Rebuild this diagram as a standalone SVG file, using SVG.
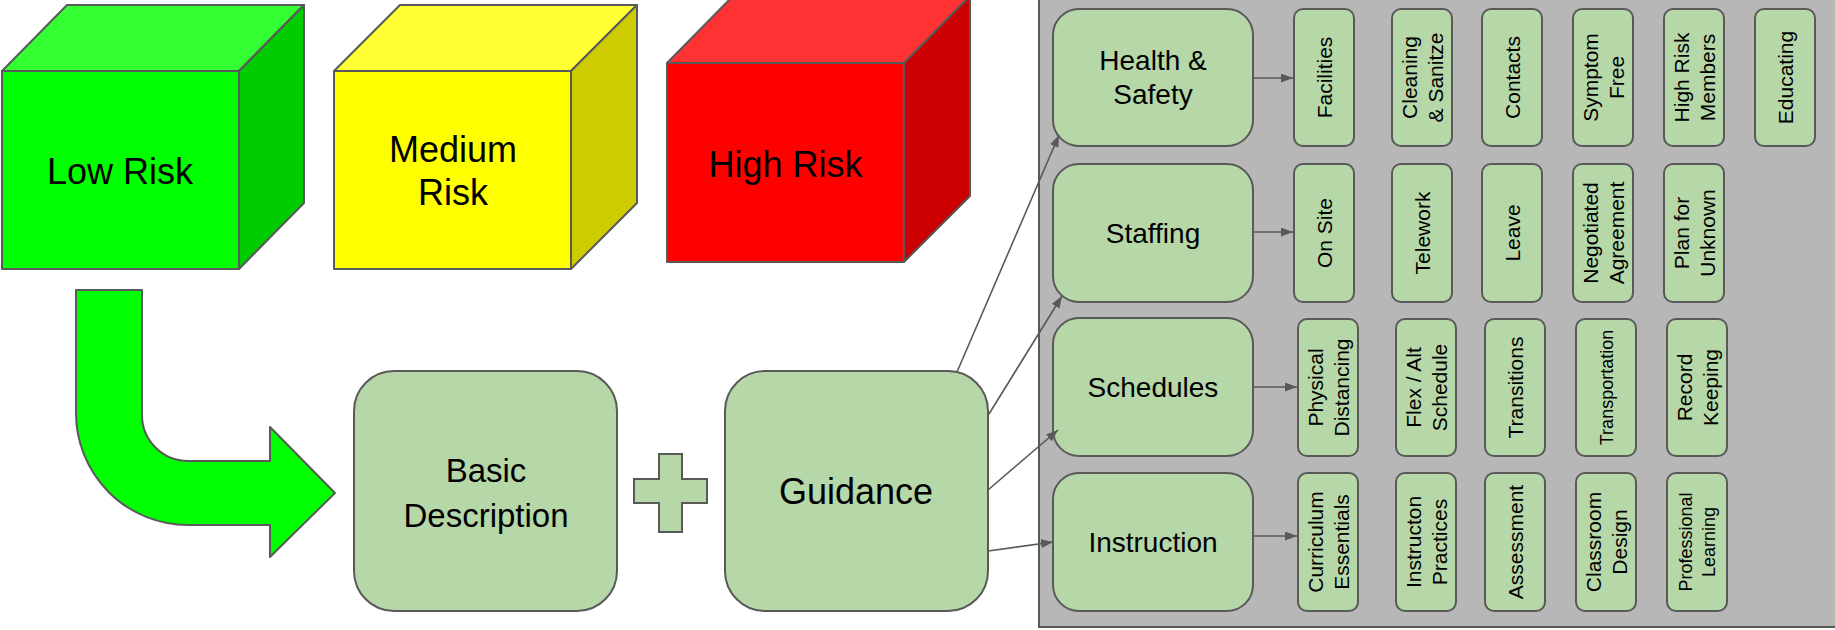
<svg xmlns="http://www.w3.org/2000/svg" width="1835" height="630" viewBox="0 0 1835 630">
<defs>
<style>
text{font-family:"Liberation Sans",Arial,sans-serif;fill:#000;text-anchor:middle}
.edge{stroke:#595959;stroke-width:2;stroke-linejoin:round}
.box{fill:#b6d7a8;stroke:#595959;stroke-width:2}
.conn{stroke:#595959;stroke-width:1.6;fill:none;marker-end:url(#ah)}
.big{font-size:36px}
.cat{font-size:28px}
.sub{font-size:21px}
.sm{font-size:18px}
</style>
<marker id="ah" viewBox="0 0 12 9" refX="12" refY="4.5" markerWidth="12" markerHeight="9" markerUnits="userSpaceOnUse" orient="auto">
<path d="M0,0 L12,4.5 L0,9 Z" fill="#595959"/>
</marker>
</defs>
<rect width="1835" height="630" fill="#ffffff"/>

<g id="low-risk" class="edge">
<polygon points="2,71 67,5 304,5 239,71" fill="#33ff33"/>
<polygon points="239,71 304,5 304,203 239,269" fill="#00cc00"/>
<rect x="2" y="71" width="237" height="198" fill="#00ff00"/>
<text class="big" x="120" y="184" stroke="none">Low Risk</text>
</g>

<g id="medium-risk" class="edge">
<polygon points="334,71 400,5 637,5 571,71" fill="#ffff33"/>
<polygon points="571,71 637,5 637,203 571,269" fill="#cccc00"/>
<rect x="334" y="71" width="237" height="198" fill="#ffff00"/>
<text class="big" x="453" y="162" stroke="none">Medium</text>
<text class="big" x="453" y="205" stroke="none">Risk</text>
</g>

<g id="high-risk" class="edge">
<polygon points="667,63 733,-4 970,-4 904,63" fill="#ff3333"/>
<polygon points="904,63 970,-4 970,196 904,262" fill="#cc0000"/>
<rect x="667" y="63" width="237" height="199" fill="#ff0000"/>
<text class="big" x="785.5" y="177" stroke="none">High Risk</text>
</g>

<g id="bent-arrow">
<path class="edge" fill="#00ff00" d="M76,290 L142,290 L142,415 A46,46 0 0 0 188,461 L270,461 L270,427 L335,493 L270,557 L270,525 L188,525 A112,112 0 0 1 76,413 Z"/>
</g>

<g id="basic-description">
<rect class="box" x="354" y="371" width="263" height="240" rx="40"/>
<text style="font-size:33px" x="486" y="482">Basic</text>
<text style="font-size:33px" x="486" y="527">Description</text>
</g>

<g id="plus">
<path class="box" d="M659,454 L682,454 L682,479 L707,479 L707,503 L682,503 L682,532 L659,532 L659,503 L634,503 L634,479 L659,479 Z"/>
</g>

<g id="guidance">
<rect class="box" x="725" y="371" width="263" height="240" rx="40"/>
<text class="big" x="856" y="504">Guidance</text>
</g>

<g id="panel">
<rect x="1039" y="-5" width="805" height="632" fill="#b7b7b7" stroke="#595959" stroke-width="2"/>
</g>

<g id="health-safety">
<rect class="box" x="1053" y="9" width="200" height="137" rx="26"/>
<text class="cat" x="1153" y="70">Health &amp;</text>
<text class="cat" x="1153" y="104">Safety</text>
</g>
<g id="staffing">
<rect class="box" x="1053" y="164" width="200" height="138" rx="26"/>
<text class="cat" x="1153" y="243">Staffing</text>
</g>
<g id="schedules">
<rect class="box" x="1053" y="318" width="200" height="138" rx="26"/>
<text class="cat" x="1153" y="397">Schedules</text>
</g>
<g id="instruction">
<rect class="box" x="1053" y="473" width="200" height="138" rx="26"/>
<text class="cat" x="1153" y="552">Instruction</text>
</g>

<g id="facilities"><rect class="box" x="1294" y="9" width="60" height="137" rx="9"/><text class="sub" transform="translate(1324,77.5) rotate(-90)" y="7.5">Facilities</text></g>
<g id="cleaning"><rect class="box" x="1392" y="9" width="60" height="137" rx="9"/><text class="sub" transform="translate(1422,77.5) rotate(-90)"><tspan x="0" y="-5.5">Cleaning</tspan><tspan x="0" y="20.5">&amp; Sanitze</tspan></text></g>
<g id="contacts"><rect class="box" x="1482" y="9" width="60" height="137" rx="9"/><text class="sub" transform="translate(1512,77.5) rotate(-90)" y="7.5">Contacts</text></g>
<g id="symptom-free"><rect class="box" x="1573" y="9" width="60" height="137" rx="9"/><text class="sub" transform="translate(1603,77.5) rotate(-90)"><tspan x="0" y="-5.5">Symptom</tspan><tspan x="0" y="20.5">Free</tspan></text></g>
<g id="high-risk-members"><rect class="box" x="1664" y="9" width="60" height="137" rx="9"/><text class="sub" transform="translate(1694,77.5) rotate(-90)"><tspan x="0" y="-5.5">High Risk</tspan><tspan x="0" y="20.5">Members</tspan></text></g>
<g id="educating"><rect class="box" x="1755" y="9" width="60" height="137" rx="9"/><text class="sub" transform="translate(1785,77.5) rotate(-90)" y="7.5">Educating</text></g>

<g id="on-site"><rect class="box" x="1294" y="164" width="60" height="138" rx="9"/><text class="sub" transform="translate(1324,233) rotate(-90)" y="7.5">On Site</text></g>
<g id="telework"><rect class="box" x="1392" y="164" width="60" height="138" rx="9"/><text class="sub" transform="translate(1422,233) rotate(-90)" y="7.5">Telework</text></g>
<g id="leave"><rect class="box" x="1482" y="164" width="60" height="138" rx="9"/><text class="sub" transform="translate(1512,233) rotate(-90)" y="7.5">Leave</text></g>
<g id="negotiated"><rect class="box" x="1573" y="164" width="60" height="138" rx="9"/><text class="sub" transform="translate(1603,233) rotate(-90)"><tspan x="0" y="-5.5">Negotiated</tspan><tspan x="0" y="20.5">Agreement</tspan></text></g>
<g id="plan-unknown"><rect class="box" x="1664" y="164" width="60" height="138" rx="9"/><text class="sub" transform="translate(1694,233) rotate(-90)"><tspan x="0" y="-5.5">Plan for</tspan><tspan x="0" y="20.5">Unknown</tspan></text></g>

<g id="physical-distancing"><rect class="box" x="1298" y="319" width="60" height="137" rx="9"/><text class="sub" transform="translate(1328,387.5) rotate(-90)"><tspan x="0" y="-5.5">Physical</tspan><tspan x="0" y="20.5">Distancing</tspan></text></g>
<g id="flex-alt"><rect class="box" x="1396" y="319" width="60" height="137" rx="9"/><text class="sub" transform="translate(1426,387.5) rotate(-90)"><tspan x="0" y="-5.5">Flex / Alt</tspan><tspan x="0" y="20.5">Schedule</tspan></text></g>
<g id="transitions"><rect class="box" x="1485" y="319" width="60" height="137" rx="9"/><text class="sub" transform="translate(1515,387.5) rotate(-90)" y="7.5">Transitions</text></g>
<g id="transportation"><rect class="box" x="1576" y="319" width="60" height="137" rx="9"/><text class="sm" transform="translate(1606,387.5) rotate(-90)" y="6.5">Transportation</text></g>
<g id="record-keeping"><rect class="box" x="1667" y="319" width="60" height="137" rx="9"/><text class="sub" transform="translate(1697,387.5) rotate(-90)"><tspan x="0" y="-5.5">Record</tspan><tspan x="0" y="20.5">Keeping</tspan></text></g>

<g id="curriculum"><rect class="box" x="1298" y="473" width="60" height="138" rx="9"/><text class="sub" transform="translate(1328,542) rotate(-90)"><tspan x="0" y="-5.5">Curriculum</tspan><tspan x="0" y="20.5">Essentials</tspan></text></g>
<g id="instructon-practices"><rect class="box" x="1396" y="473" width="60" height="138" rx="9"/><text class="sub" transform="translate(1426,542) rotate(-90)"><tspan x="0" y="-5.5">Instructon</tspan><tspan x="0" y="20.5">Practices</tspan></text></g>
<g id="assessment"><rect class="box" x="1485" y="473" width="60" height="138" rx="9"/><text class="sub" transform="translate(1515,542) rotate(-90)" y="7.5">Assessment</text></g>
<g id="classroom-design"><rect class="box" x="1576" y="473" width="60" height="138" rx="9"/><text class="sub" transform="translate(1606,542) rotate(-90)"><tspan x="0" y="-5.5">Classroom</tspan><tspan x="0" y="20.5">Design</tspan></text></g>
<g id="professional-learning"><rect class="box" x="1667" y="473" width="60" height="138" rx="9"/><text class="sm" transform="translate(1697,542) rotate(-90)"><tspan x="0" y="-5">Professional</tspan><tspan x="0" y="18">Learning</tspan></text></g>

<g id="connectors">
<line class="conn" x1="957" y1="372" x2="1059" y2="135"/>
<line class="conn" x1="989" y1="414" x2="1062" y2="296"/>
<line class="conn" x1="988" y1="490" x2="1058" y2="430"/>
<line class="conn" x1="988" y1="551" x2="1053" y2="542"/>
<line class="conn" x1="1253" y1="78" x2="1293" y2="78"/>
<line class="conn" x1="1253" y1="232" x2="1293" y2="232"/>
<line class="conn" x1="1253" y1="387" x2="1297" y2="387"/>
<line class="conn" x1="1253" y1="536" x2="1297" y2="536"/>
</g>
</svg>
